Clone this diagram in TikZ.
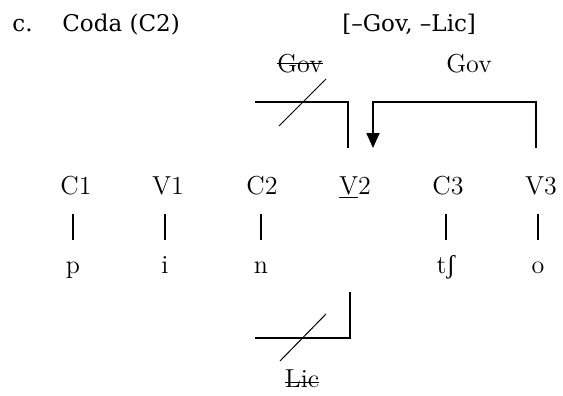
\documentclass[tikz,border=0pt]{standalone}
\usepackage{fontspec}
\newfontfamily\headfont{DejaVu Serif}
\newfontfamily\ipafont{Liberation Serif}
\usetikzlibrary{arrows.meta,positioning,calc}
\newcommand\strk[2][0.3em]{\setbox0\hbox{#2}\rlap{\rule[#1]{\wd0}{0.5pt}}\box0}

\begin{document}
\begin{tikzpicture}[x=0.5pt,y=-0.5pt,>={Triangle[length=7.5pt,width=6.5pt]},
  slot/.style={inner sep=0pt, anchor=base, text height=0pt, text depth=0pt,
               font=\fontsize{13}{15}\selectfont},
  segm/.style={inner sep=0pt, anchor=base, text height=5.6pt, text depth=0pt,
               font=\fontsize{13}{15}\selectfont},
  head/.style={inner sep=0pt, anchor=base west, font=\headfont\fontsize{11.5}{14}\selectfont},
  rel/.style={inner sep=0pt, anchor=base, font=\fontsize{13}{15}\selectfont},
  assoc/.style={line width=0.55pt, shorten <=9.5pt, shorten >=10.5pt},
  brk/.style={line width=0.9pt},
  cut/.style={line width=0.5pt}]
\useasboundingbox (0,0) rectangle (563,396);

% heading
\node[head] (lbl) at (12,32) {c.};
\node[head] (ttl) at (62,32) {Coda (C2)};
\node[head] (feat) at (342,32) {[–Gov, –Lic]};

% skeleton
\node[slot] (C1) at (76,194) {C1};
\node[slot] (V1) at (168,194) {V1};
\node[slot] (C2) at (262,194) {C2};
\node[slot] (V2) at (355,194) {\underline{V}2};
\node[slot] (C3) at (448,194) {C3};
\node[slot] (V3) at (541,194) {V3};

% melody
\node[segm] (p) at (73,273) {p};
\node[segm] (i) at (165,273) {i};
\node[segm] (n) at (261,273) {n};
\node[segm] (tsh) at (446,273) {t{\ipafont ʃ}};
\node[segm] (o) at (538,273) {o};

\draw[assoc] (C1.south -| p) -- (p);
\draw[assoc] (V1.south -| i) -- (i);
\draw[assoc] (C2.south -| n) -- (n);
\draw[assoc] (C3.south -| tsh) -- (tsh);
\draw[assoc] (V3.south -| o) -- (o);

% relations
\node[rel] (govx) at (300,72) {\strk[4pt]{Gov}};
\node[rel] (gov) at (469,72) {Gov};
\node[rel] (licx) at (302,387) {\strk[2pt]{Lic}};

\draw[brk] ($(V2.base)+(-7,-46)$) |- ++(-93,-46);
\draw[cut] (279,126) -- (326,79);

\draw[brk,->] ($(V3.base)+(-5,-46)$) |- ($(V2.base)+(18,-92)$) -- ($(V2.base)+(18,-46)$);

\draw[brk] ($(V2.base)+(-5,98)$) |- ++(-95,46);
\draw[cut] (280,361) -- (326,314);
\end{tikzpicture}
\end{document}
